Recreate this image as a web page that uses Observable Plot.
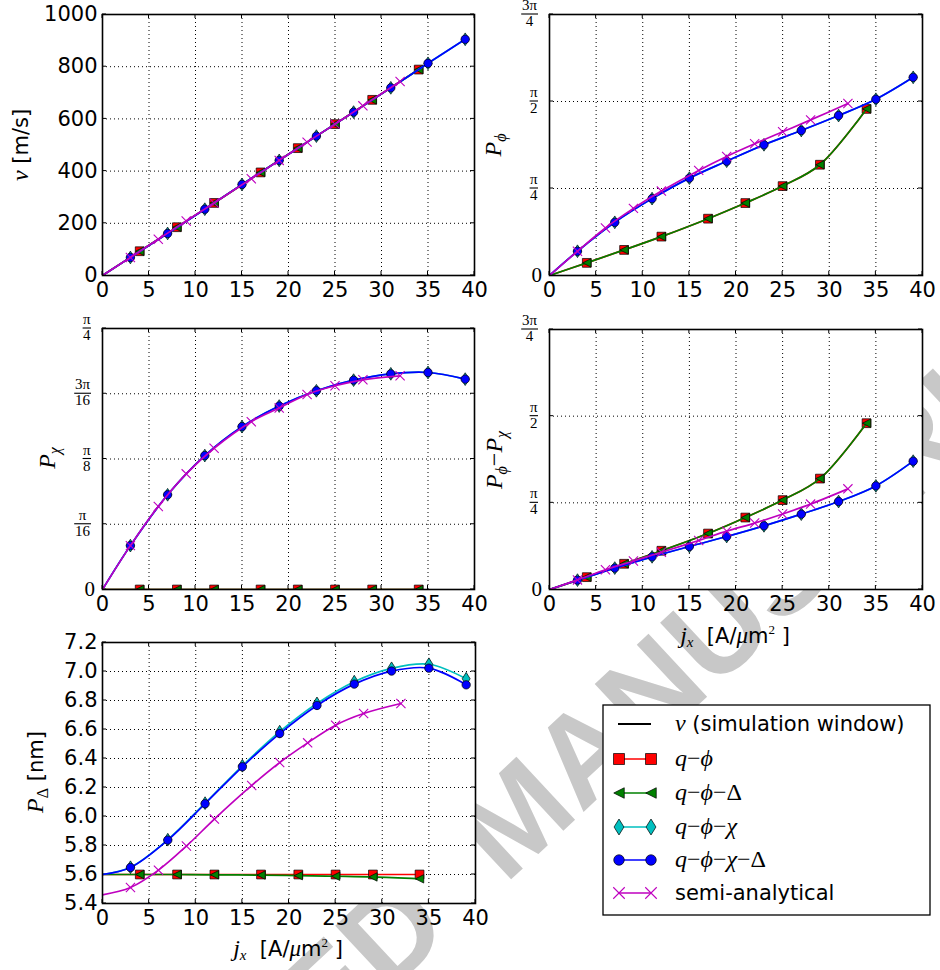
<!DOCTYPE html>
<html><head><meta charset="utf-8">
<script src="https://cdn.jsdelivr.net/npm/d3@7"></script>
<script src="https://cdn.jsdelivr.net/npm/@observablehq/plot@0.6"></script>
<style>
body{margin:0;background:white;}
#fig{position:relative;width:940px;height:970px;overflow:hidden;background:white;}
#fig > svg{position:absolute;}
</style></head><body><div id="fig"></div>
<script>
// ---------------- data ----------------
const xTicks = [0, 5, 10, 15, 20, 25, 30, 35, 40];
// current densities j_x [A/µm²] (0 = curve origin, no marker)
const jQPhi    = [0, 4, 8, 12, 17, 21, 25, 29, 34];            // q-ϕ and q-ϕ-Δ
const jQPhiChi = [0, 3, 7, 11, 15, 19, 23, 27, 31, 35, 39];    // q-ϕ-χ and q-ϕ-χ-Δ
const jSemi    = [0, 3, 6, 9, 12, 16, 19, 22, 25, 28, 32];     // semi-analytical

// panel 1: v [m/s]
const vQPhi      = [0, 93, 185, 278, 395, 488, 580, 673, 789];
const vQPhiDelta = [0, 93, 185, 278, 395, 488, 580, 673, 789];
const vQPhiChi   = [0, 69, 161, 254, 349, 441, 534, 626, 719, 813, 905];
const vQPhiChiDelta = [0, 69, 161, 254, 349, 441, 534, 626, 719, 813, 905];
const vSemi      = [0, 69, 139, 209, 278, 371, 441, 511, 580, 650, 743];
const vTicks = [0, 200, 400, 600, 800, 1000];

// panel 2: P_phi [rad]
const phiQPhi      = [0, 0.114, 0.231, 0.351, 0.513, 0.654, 0.807, 1.000, 1.504];
const phiQPhiDelta = [0, 0.114, 0.231, 0.351, 0.513, 0.654, 0.807, 1.000, 1.504];
const phiQPhiChi   = [0, 0.219, 0.480, 0.694, 0.879, 1.032, 1.180, 1.309, 1.444, 1.591, 1.789];
const phiQPhiChiDelta = [0, 0.219, 0.480, 0.694, 0.879, 1.032, 1.180, 1.309, 1.444, 1.591, 1.789];
const phiSemi      = [0, 0.219, 0.429, 0.606, 0.762, 0.949, 1.075, 1.189, 1.297, 1.405, 1.552];

// panel 3: P_chi [rad]
const chiQPhi      = [0, 0, 0, 0, 0, 0, 0, 0, 0];
const chiQPhiDelta = [0, 0, 0, 0, 0, 0, 0, 0, 0];
const chiQPhiChi   = [0, 0.132, 0.285, 0.403, 0.490, 0.552, 0.598, 0.630, 0.649, 0.653, 0.633];
const chiQPhiChiDelta = [0, 0.132, 0.285, 0.403, 0.490, 0.552, 0.598, 0.630, 0.649, 0.653, 0.633];
const chiSemi      = [0, 0.132, 0.250, 0.348, 0.425, 0.505, 0.546, 0.587, 0.613, 0.631, 0.643];

// panel 4: P_phi - P_chi [rad]
const dQPhi      = [0, 0.112, 0.233, 0.351, 0.507, 0.652, 0.810, 1.005, 1.507];
const dQPhiDelta = [0, 0.112, 0.233, 0.351, 0.507, 0.652, 0.810, 1.005, 1.507];
const dQPhiChi   = [0, 0.085, 0.194, 0.296, 0.390, 0.480, 0.577, 0.683, 0.797, 0.939, 1.163];
const dQPhiChiDelta = [0, 0.085, 0.194, 0.296, 0.390, 0.480, 0.577, 0.683, 0.797, 0.939, 1.163];
const dSemi      = [0, 0.087, 0.179, 0.258, 0.337, 0.444, 0.529, 0.602, 0.684, 0.774, 0.912];

// panel 5: P_Delta [nm]
const wQPhi      = [5.600, 5.600, 5.600, 5.600, 5.600, 5.600, 5.600, 5.600, 5.600];
const wQPhiDelta = [5.600, 5.600, 5.600, 5.598, 5.596, 5.592, 5.588, 5.583, 5.570];
const wQPhiChi   = [5.600, 5.650, 5.840, 6.092, 6.350, 6.585, 6.780, 6.930, 7.022, 7.050, 6.950];
const wQPhiChiDelta = [5.600, 5.648, 5.837, 6.088, 6.343, 6.572, 6.766, 6.913, 7.003, 7.023, 6.908];
const wSemi      = [5.460, 5.510, 5.630, 5.796, 5.982, 6.214, 6.372, 6.508, 6.630, 6.710, 6.779];
const wTicks = [5.4, 5.6, 5.8, 6.0, 6.2, 6.4, 6.6, 6.8, 7.0, 7.2];

// pi-fraction ticks
const PI = Math.PI;
const piTicksWide = [
  {v: 0, num: null, den: null, text: "0"},
  {v: PI / 4, num: "π", den: "4"},
  {v: PI / 2, num: "π", den: "2"},
  {v: 3 * PI / 4, num: "3π", den: "4"}
];
const piTicksNarrow = [
  {v: 0, num: null, den: null, text: "0"},
  {v: PI / 16, num: "π", den: "16"},
  {v: PI / 8, num: "π", den: "8"},
  {v: 3 * PI / 16, num: "3π", den: "16"},
  {v: PI / 4, num: "π", den: "4"}
];

// legend labels: [text, italic] pieces
const legendLabels = [
  [["v", true], [" (simulation window)", false]],
  [["q", true], ["−", false], ["ϕ", true]],
  [["q", true], ["−", false], ["ϕ", true], ["−Δ", false]],
  [["q", true], ["−", false], ["ϕ", true], ["−", false], ["χ", true]],
  [["q", true], ["−", false], ["ϕ", true], ["−", false], ["χ", true], ["−Δ", false]],
  [["semi-analytical", false]]
];

// ---------------- styles ----------------
const SERIF = "'Liberation Serif','DejaVu Serif',serif";
const SANS = "'DejaVu Sans',sans-serif";
const symSquare = {draw(c, s) { const r = Math.sqrt(s / Math.PI); c.rect(-r, -r, 2 * r, 2 * r); }};
const symLeftTri = {draw(c, s) { const r = Math.sqrt(s / Math.PI); c.moveTo(-r, 0); c.lineTo(r, -r); c.lineTo(r, r); c.closePath(); }};
const symThinDiamond = {draw(c, s) { const r = Math.sqrt(s / Math.PI); c.moveTo(0, -1.45 * r); c.lineTo(0.9 * r, 0); c.lineTo(0, 1.45 * r); c.lineTo(-0.9 * r, 0); c.closePath(); }};
const symCircle = {draw(c, s) { const r = Math.sqrt(s / Math.PI); c.moveTo(r, 0); c.arc(0, 0, r, 0, 2 * Math.PI); }};
const symTimes = {draw(c, s) { const r = Math.sqrt(s / Math.PI); c.moveTo(-r, -r); c.lineTo(r, r); c.moveTo(-r, r); c.lineTo(r, -r); }};

const S = {
  qphi:      {color: "#ff0000", symbol: symSquare, r: 4.4, fill: "#ff0000", edge: "#000", ew: 0.7},
  qphiD:     {color: "#008000", symbol: symLeftTri, r: 4.2, fill: "#008000", edge: "#000", ew: 0.7},
  qphiChi:   {color: "#00bfbf", symbol: symThinDiamond, r: 4.4, fill: "#00bfbf", edge: "#000", ew: 0.7},
  qphiChiD:  {color: "#0000ff", symbol: symCircle, r: 4.2, fill: "#0000ff", edge: "#000", ew: 0.7},
  semi:      {color: "#bf00bf", symbol: symTimes, r: 4.6, fill: "none", edge: "#bf00bf", ew: 1.1}
};

const rows = (js, vs) => js.map((j, i) => ({j, v: vs[i]}));

// ---------------- helpers ----------------
function innerTicks(xt, yt) {
  return (index, scales, values, dims) => {
    const g = d3.create("svg:g").attr("stroke", "#000").attr("stroke-width", 1);
    const x0 = dims.marginLeft, x1 = dims.width - dims.marginRight;
    const y0 = dims.marginTop, y1 = dims.height - dims.marginBottom;
    for (const t of xt) {
      const px = scales.x(t);
      g.append("line").attr("x1", px).attr("x2", px).attr("y1", y1).attr("y2", y1 - 4);
      g.append("line").attr("x1", px).attr("x2", px).attr("y1", y0).attr("y2", y0 + 4);
    }
    for (const t of yt) {
      const py = scales.y(t);
      g.append("line").attr("x1", x0).attr("x2", x0 + 4).attr("y1", py).attr("y2", py);
      g.append("line").attr("x1", x1).attr("x2", x1 - 4).attr("y1", py).attr("y2", py);
    }
    return g.node();
  };
}

function fracAxis(ticks) {
  return (index, scales, values, dims) => {
    const g = d3.create("svg:g").attr("font-family", SERIF).attr("fill", "#000");
    for (const t of ticks) {
      const y = scales.y(t.v);
      if (t.den) {
        const w = Math.max(t.num.length, t.den.length) * 8.4;
        const xr = dims.marginLeft - 11;
        const cx = xr - w / 2;
        g.append("line").attr("x1", xr - w).attr("x2", xr).attr("y1", y).attr("y2", y)
          .attr("stroke", "#000").attr("stroke-width", 1.1);
        g.append("text").attr("x", cx).attr("y", y - 4).attr("text-anchor", "middle")
          .attr("font-size", 15).text(t.num);
        g.append("text").attr("x", cx).attr("y", y + 12).attr("text-anchor", "middle")
          .attr("font-size", 15).text(t.den);
      } else {
        g.append("text").attr("x", dims.marginLeft - 7).attr("y", y).attr("dy", "0.35em")
          .attr("text-anchor", "end").attr("font-size", 21).text(t.text);
      }
    }
    return g.node();
  };
}

function htmlMark(markup) {
  return () => {
    const g = d3.create("svg:g");
    g.html(markup);
    return g.node();
  };
}

const SUB = (t, dy, italic = true) => `<tspan font-family="${SERIF}" ${italic ? 'font-style="italic"' : ''} font-size="16" dy="${dy}">${t}</tspan>`;
const ITAL = (t, size = 24) => `<tspan font-family="${SERIF}" font-style="italic" font-size="${size}">${t}</tspan>`;

function xLabelMarkup(cx, by) {
  return `<text x="${cx}" y="${by}" text-anchor="middle" font-family="${SANS}" font-size="21" fill="#000">`
    + ITAL("j", 24) + `<tspan font-family="${SERIF}" font-style="italic" font-size="15" dy="4">x</tspan>`
    + `<tspan dy="-4">\u00a0\u00a0[A/</tspan>` + ITAL("μ", 23) + `<tspan>m</tspan>`
    + `<tspan font-family="${SERIF}" font-size="13" dy="-9">2</tspan><tspan dy="9">\u00a0]</tspan></text>`;
}

function yLabelMarkup(bx, cy, inner) {
  return `<text transform="translate(${bx},${cy}) rotate(-90)" text-anchor="middle" font-family="${SANS}" font-size="21" fill="#000">${inner}</text>`;
}

const GRID = {stroke: "#000", strokeOpacity: 1, strokeDasharray: "1,3", strokeWidth: 1};

function panel(cfg) {
  const {L, T, W, H, frame, yDomain, yTicks, yFormat, frac, series, extras} = cfg;
  const [fx0, fx1, fy0, fy1] = frame;
  const marks = [
    Plot.frame({fill: "white"}),
    Plot.gridX(xTicks, GRID),
    Plot.gridY(yTicks, GRID),
    innerTicks(xTicks, yTicks)
  ];
  for (const [st, data] of series) {
    marks.push(Plot.line(data, {x: "j", y: "v", stroke: st.color, strokeWidth: 1.7, curve: "catmull-rom", clip: true}));
    marks.push(Plot.dot(data.filter(d => d.j > 0), {x: "j", y: "v", symbol: st.symbol, r: st.r,
      fill: st.fill, stroke: st.edge, strokeWidth: st.ew, clip: true}));
  }
  marks.push(Plot.frame({stroke: "#000", strokeWidth: 1.6}));
  marks.push(Plot.axisX(xTicks, {tickSize: 0, tickPadding: 7, fontSize: 21, label: null, fontFamily: "DejaVu Sans"}));
  if (frac) marks.push(fracAxis(frac));
  else marks.push(Plot.axisY(yTicks, {tickSize: 0, tickPadding: 5, fontSize: 21, label: null, tickFormat: yFormat, fontFamily: "DejaVu Sans"}));
  for (const e of extras) marks.push(htmlMark(e));
  const svg = Plot.plot({
    width: W, height: H,
    marginLeft: fx0 - L, marginRight: L + W - fx1, marginTop: fy0 - T, marginBottom: T + H - fy1,
    x: {domain: [0, 40]},
    y: {domain: yDomain, axis: frac ? null : undefined},
    style: {background: "transparent", fontFamily: "DejaVu Sans", fontSize: "21px", overflow: "visible", color: "#000"},
    marks
  });
  svg.style.position = "absolute";
  svg.style.left = L + "px";
  svg.style.top = T + "px";
  return svg;
}

const fig = document.getElementById("fig");

// watermark (behind the axes)
const wm = d3.select(fig).append("svg").attr("width", 940).attr("height", 970).style("left", "0px").style("top", "0px");
const wg = wm.append("g").attr("transform", "translate(505,885) rotate(-43)")
  .attr("font-family", "'Liberation Sans',sans-serif").attr("font-weight", "bold").attr("font-size", 125).attr("fill", "#c8c8c8");
wg.append("text").attr("x", -70).attr("text-anchor", "end").text("ACCEPTED");
wg.append("text").attr("x", 0).text("MANUSCRIPT");

// panel 1
fig.appendChild(panel({
  L: 0, T: 0, W: 480, H: 310, frame: [102, 474, 14, 275],
  yDomain: [0, 1000], yTicks: vTicks, yFormat: d => String(d),
  series: [
    [S.qphi, rows(jQPhi, vQPhi)], [S.qphiD, rows(jQPhi, vQPhiDelta)],
    [S.qphiChi, rows(jQPhiChi, vQPhiChi)], [S.qphiChiD, rows(jQPhiChi, vQPhiChiDelta)],
    [S.semi, rows(jSemi, vSemi)]
  ],
  extras: [yLabelMarkup(28, 145, ITAL("v", 24) + "\u00a0[m/s]")]
}));

// panel 2
fig.appendChild(panel({
  L: 470, T: 0, W: 470, H: 310, frame: [549, 922, 14, 275],
  yDomain: [0, 3 * PI / 4], yTicks: piTicksWide.map(d => d.v), frac: piTicksWide,
  series: [
    [S.qphi, rows(jQPhi, phiQPhi)], [S.qphiD, rows(jQPhi, phiQPhiDelta)],
    [S.qphiChi, rows(jQPhiChi, phiQPhiChi)], [S.qphiChiD, rows(jQPhiChi, phiQPhiChiDelta)],
    [S.semi, rows(jSemi, phiSemi)]
  ],
  extras: [yLabelMarkup(31, 145, ITAL("P") + SUB("ϕ", 5))]
}));

// panel 3
fig.appendChild(panel({
  L: 0, T: 300, W: 480, H: 320, frame: [102, 474, 328, 589],
  yDomain: [0, PI / 4], yTicks: piTicksNarrow.map(d => d.v), frac: piTicksNarrow,
  series: [
    [S.qphi, rows(jQPhi, chiQPhi)], [S.qphiD, rows(jQPhi, chiQPhiDelta)],
    [S.qphiChi, rows(jQPhiChi, chiQPhiChi)], [S.qphiChiD, rows(jQPhiChi, chiQPhiChiDelta)],
    [S.semi, rows(jSemi, chiSemi)]
  ],
  extras: [yLabelMarkup(55, 158, ITAL("P") + SUB("χ", 5))]
}));

// panel 4
fig.appendChild(panel({
  L: 470, T: 300, W: 470, H: 360, frame: [549, 922, 329, 589],
  yDomain: [0, 3 * PI / 4], yTicks: piTicksWide.map(d => d.v), frac: piTicksWide,
  series: [
    [S.qphi, rows(jQPhi, dQPhi)], [S.qphiD, rows(jQPhi, dQPhiDelta)],
    [S.qphiChi, rows(jQPhiChi, dQPhiChi)], [S.qphiChiD, rows(jQPhiChi, dQPhiChiDelta)],
    [S.semi, rows(jSemi, dSemi)]
  ],
  extras: [
    yLabelMarkup(32, 160, ITAL("P") + SUB("ϕ", 5) + `<tspan font-family="${SERIF}" font-size="24" dy="-5">\u2212</tspan>` + ITAL("P") + SUB("χ", 5)),
    xLabelMarkup(265, 343)
  ]
}));

// panel 5
fig.appendChild(panel({
  L: 0, T: 620, W: 480, H: 350, frame: [102, 475, 642, 903],
  yDomain: [5.4, 7.2], yTicks: wTicks, yFormat: d => d.toFixed(1),
  series: [
    [S.qphi, rows(jQPhi, wQPhi)], [S.qphiD, rows(jQPhi, wQPhiDelta)],
    [S.qphiChi, rows(jQPhiChi, wQPhiChi)], [S.qphiChiD, rows(jQPhiChi, wQPhiChiDelta)],
    [S.semi, rows(jSemi, wSemi)]
  ],
  extras: [
    yLabelMarkup(43, 152, ITAL("P") + SUB("Δ", 5, false) + `<tspan dy="-5">\u00a0[nm]</tspan>`),
    xLabelMarkup(288, 336)
  ]
}));

// legend
const lg = d3.select(fig).append("svg").attr("width", 330).attr("height", 214)
  .style("left", "602px").style("top", "704px");
lg.append("rect").attr("x", 1).attr("y", 1).attr("width", 327).attr("height", 210)
  .attr("fill", "white").attr("stroke", "#000").attr("stroke-width", 1.3);
const legendStyles = [null, S.qphi, S.qphiD, S.qphiChi, S.qphiChiD, S.semi];
const rowY = [20, 55, 89, 123, 156, 189];
legendStyles.forEach((st, i) => {
  const y = rowY[i];
  lg.append("line").attr("x1", 16).attr("x2", 49).attr("y1", y).attr("y2", y)
    .attr("stroke", st ? st.color : "#000").attr("stroke-width", st ? 1.6 : 2);
  if (st) {
    for (const x of [17, 49]) {
      lg.append("path").attr("d", d3.symbol(st.symbol, Math.PI * (st.r * 1.25) ** 2)())
        .attr("transform", `translate(${x},${y})`)
        .attr("fill", st.fill).attr("stroke", st.edge).attr("stroke-width", st.ew);
    }
  }
  const t = lg.append("text").attr("x", 73).attr("y", y).attr("dy", "0.35em")
    .attr("font-family", SANS).attr("font-size", 21).attr("fill", "#000");
  for (const [piece, italic] of legendLabels[i]) {
    const ts = t.append("tspan").text(piece);
    if (italic) ts.attr("font-family", SERIF).attr("font-style", "italic").attr("font-size", 24);
    else if (i > 0 && i < 5) ts.attr("font-family", SERIF).attr("font-size", 24);
  }
});
</script>
</body></html>
